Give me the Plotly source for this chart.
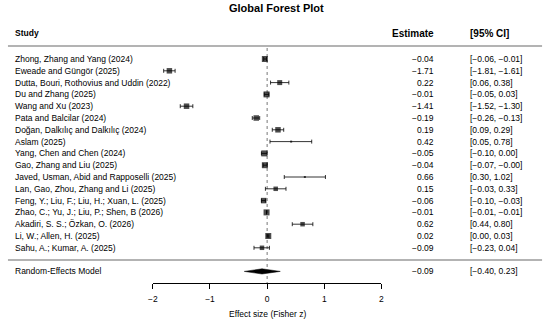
import plotly.graph_objects as go

# ---------------- data ----------------
studies = [
    "Zhong, Zhang and Yang (2024)",
    "Eweade and Güngör (2025)",
    "Dutta, Bouri, Rothovius and Uddin (2022)",
    "Du and Zhang (2025)",
    "Wang and Xu (2023)",
    "Pata and Balcilar (2024)",
    "Doğan, Dalkılıç and Dalkılıç (2024)",
    "Aslam (2025)",
    "Yang, Chen and Chen (2024)",
    "Gao, Zhang and Liu (2025)",
    "Javed, Usman, Abid and Rapposelli (2025)",
    "Lan, Gao, Zhou, Zhang and Li (2025)",
    "Feng, Y.; Liu, F.; Liu, H.; Xuan, L. (2025)",
    "Zhao, C.; Yu, J.; Liu, P.; Shen, B (2026)",
    "Akadiri, S. S.; Özkan, O. (2026)",
    "Li, W.; Allen, H. (2025)",
    "Sahu, A.; Kumar, A. (2025)",
]
estimate = [-0.04, -1.71, 0.22, -0.01, -1.41, -0.19, 0.19, 0.42, -0.05, -0.04,
            0.66, 0.15, -0.06, -0.01, 0.62, 0.02, -0.09]
ci_lower = [-0.06, -1.81, 0.06, -0.05, -1.52, -0.26, 0.09, 0.05, -0.10, -0.07,
            0.30, -0.03, -0.10, -0.01, 0.44, 0.00, -0.23]
ci_upper = [-0.01, -1.61, 0.38, 0.03, -1.30, -0.13, 0.29, 0.78, 0.00, -0.0,
            1.02, 0.33, -0.03, -0.01, 0.80, 0.03, 0.04]
model_label = "Random-Effects Model"
model_est = -0.09
model_lower = -0.40
model_upper = 0.23
tick_values = [-2, -1, 0, 1, 2]
tick_labels = ["\u22122", "\u22121", "0", "1", "2"]
title_text = "Global Forest Plot"
x_title = "Effect size (Fisher z)"

# ---------------- style ----------------
square_px = [6, 5.5, 5, 6, 5.5, 5.5, 5.5, 2, 6, 6, 2, 4.5, 5.5, 6, 4.5, 6, 4.5]
FONT = "Liberation Sans, Arial, sans-serif"
W, H = 550, 322
ROW_PX = 11.8
FIRST_PX = 59
AXIS_PX = 283


def fmt(v):
    return f"{v:.2f}".replace("-", "\u2212")


def row_y(r):
    return -r


n = len(studies)
rows = list(range(n))
model_row = n + 1

fig = go.Figure()

fig.add_trace(go.Scatter(
    x=estimate,
    y=[row_y(r) for r in rows],
    mode="markers",
    marker=dict(symbol="square", size=square_px, color="black", line=dict(width=0)),
    error_x=dict(
        type="data", symmetric=False,
        array=[u - e for u, e in zip(ci_upper, estimate)],
        arrayminus=[e - l for e, l in zip(estimate, ci_lower)],
        color="black", thickness=0.8, width=2,
    ),
    cliponaxis=False,
    showlegend=False,
    hoverinfo="skip",
))

dh = 0.22
fig.add_trace(go.Scatter(
    x=[model_lower, model_est, model_upper, model_est, model_lower],
    y=[row_y(model_row), row_y(model_row) + dh, row_y(model_row),
       row_y(model_row) - dh, row_y(model_row)],
    mode="lines", fill="toself", fillcolor="black",
    line=dict(color="black", width=0.5),
    showlegend=False, hoverinfo="skip",
))

y_top = FIRST_PX / ROW_PX
y_bot = -(AXIS_PX - FIRST_PX) / ROW_PX

annotations = []
lab_font = dict(family=FONT, size=8.5, color="black")
for r, s, e, l, u in zip(rows, studies, estimate, ci_lower, ci_upper):
    annotations.append(dict(x=8 / W, y=row_y(r), xref="paper", yref="y", text=s,
                            xanchor="left", yanchor="middle", showarrow=False, font=lab_font))
    annotations.append(dict(x=437 / W, y=row_y(r), xref="paper", yref="y", text=fmt(e),
                            xanchor="right", yanchor="middle", showarrow=False, font=lab_font))
    annotations.append(dict(x=470 / W, y=row_y(r), xref="paper", yref="y",
                            text=f"[{fmt(l)}, {fmt(u)}]",
                            xanchor="left", yanchor="middle", showarrow=False, font=lab_font))

annotations.append(dict(x=8 / W, y=row_y(model_row), xref="paper", yref="y", text=model_label,
                        xanchor="left", yanchor="middle", showarrow=False, font=lab_font))
annotations.append(dict(x=437 / W, y=row_y(model_row), xref="paper", yref="y", text=fmt(model_est),
                        xanchor="right", yanchor="middle", showarrow=False, font=lab_font))
annotations.append(dict(x=470 / W, y=row_y(model_row), xref="paper", yref="y",
                        text=f"[{fmt(model_lower)}, {fmt(model_upper)}]",
                        xanchor="left", yanchor="middle", showarrow=False, font=lab_font))

hdr_y = (FIRST_PX - 33) / ROW_PX
annotations += [
    dict(x=8 / W, y=hdr_y, xref="paper", yref="y", text="<b>Study</b>", xanchor="left",
         yanchor="middle", showarrow=False, font=dict(family=FONT, size=8.5, color="black")),
    dict(x=437 / W, y=hdr_y, xref="paper", yref="y", text="<b>Estimate</b>", xanchor="right",
         yanchor="middle", showarrow=False, font=dict(family=FONT, size=10, color="black")),
    dict(x=470 / W, y=hdr_y, xref="paper", yref="y", text="<b>[95% CI]</b>", xanchor="left",
         yanchor="middle", showarrow=False, font=dict(family=FONT, size=10, color="black")),
    dict(x=275 / W, y=1 - 8 / H, xref="paper", yref="paper", text=f"<b>{title_text}</b>",
         xanchor="center", yanchor="middle", showarrow=False,
         font=dict(family=FONT, size=11, color="black")),
    dict(x=0, y=1 - 314 / H, xref="x", yref="paper", text=x_title,
         xanchor="center", yanchor="middle", showarrow=False, font=lab_font),
]

shapes = [
    dict(type="line", xref="paper", yref="y", x0=3 / W, x1=545 / W,
         y0=(FIRST_PX - 46) / ROW_PX, y1=(FIRST_PX - 46) / ROW_PX,
         line=dict(color="#9a9a9a", width=1.6)),
    dict(type="line", xref="paper", yref="y", x0=3 / W, x1=545 / W,
         y0=-(260 - FIRST_PX) / ROW_PX, y1=-(260 - FIRST_PX) / ROW_PX,
         line=dict(color="#9a9a9a", width=1.6)),
    dict(type="line", xref="x", yref="y", x0=0, x1=0,
         y0=(FIRST_PX - 48) / ROW_PX, y1=y_bot,
         line=dict(color="#555555", width=0.8, dash="dot"), layer="below"),
]

fig.update_layout(
    width=W, height=H,
    margin=dict(l=0, r=0, t=0, b=0),
    paper_bgcolor="white", plot_bgcolor="white",
    annotations=annotations, shapes=shapes,
    xaxis=dict(domain=[150 / W, 382 / W], range=[-2, 2], showgrid=False, zeroline=False,
               showline=True, linecolor="black", linewidth=0.8,
               ticks="outside", ticklen=5, tickwidth=0.8, tickcolor="black",
               tickvals=tick_values, ticktext=tick_labels, ticklabelstandoff=3,
               tickfont=dict(family=FONT, size=8.5, color="black"),
               fixedrange=True),
    yaxis=dict(domain=[1 - AXIS_PX / H, 1], range=[y_bot, y_top], visible=False,
               fixedrange=True),
    showlegend=False,
)

fig.write_html(
    "out.html",
    config={"displayModeBar": False},
    post_script="document.body.style.margin='0';document.body.style.overflow='hidden';",
)
